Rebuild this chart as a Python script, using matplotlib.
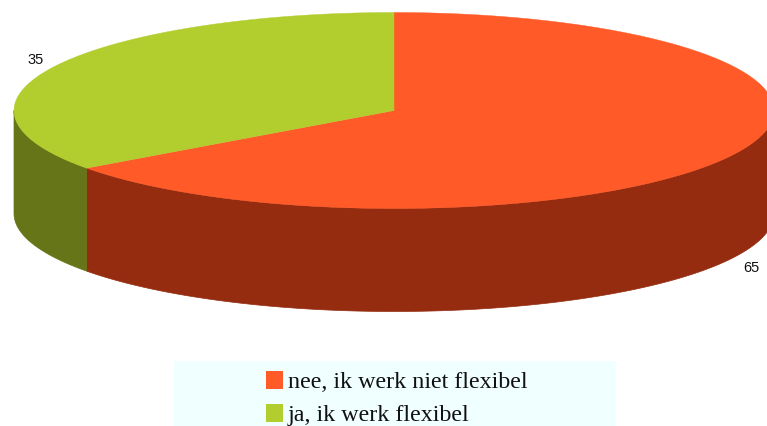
import numpy as np
import matplotlib
matplotlib.use('Agg')
import matplotlib.pyplot as plt
from matplotlib.patches import Polygon, Rectangle

labels = ['nee, ik werk niet flexibel', 'ja, ik werk flexibel']
values = [65, 35]
top_colors = ['#ff5a27', '#b2cd2e']
side_colors = ['#952c10', '#667518']

# pie geometry in pixels
cx, cy = 394, 111.5
rx, ry = 380, 98
depth = 103

fig = plt.figure(figsize=(7.67, 4.27), dpi=100)
ax = fig.add_axes([0, 0, 1, 1])
ax.set_xlim(0, 767)
ax.set_ylim(427, 0)
ax.axis('off')

# angles clockwise from 12 o'clock
total = sum(values)
start = 0
wedges = []
for v in values:
    end = start + v / total * 2 * np.pi
    wedges.append((start, end))
    start = end

def ex(t):
    return cx + rx * np.sin(t)

def ey(t):
    return cy - ry * np.cos(t)

# side walls first, only the front half is visible
for (a, b), col in zip(wedges, side_colors):
    a2 = max(a, np.pi / 2)
    b2 = min(b, 3 * np.pi / 2)
    if b2 <= a2:
        continue
    t = np.linspace(a2, b2, 300)
    xs = np.concatenate([ex(t), ex(t[::-1])])
    ys = np.concatenate([ey(t), ey(t[::-1]) + depth])
    ax.add_patch(Polygon(np.column_stack([xs, ys]), closed=True, fc=col, ec=col, lw=0.5))

# top
for (a, b), col in zip(wedges, top_colors):
    t = np.linspace(a, b, 400)
    xs = np.concatenate([[cx], ex(t)])
    ys = np.concatenate([[cy], ey(t)])
    ax.add_patch(Polygon(np.column_stack([xs, ys]), closed=True, fc=col, ec=col, lw=0.3))

# value labels
ax.text(36, 59.5, str(values[1]), family='Liberation Sans', fontsize=10.5, ha='center', va='center', color='#111111')
ax.text(751, 268.5, str(values[0]), family='Liberation Sans', fontsize=10.5, ha='center', va='center', color='#111111')

# legend
ax.add_patch(Rectangle((174, 362), 442, 66, fc='#f0ffff', ec='none'))
for i, (lab, col) in enumerate(zip(labels, top_colors)):
    y = 381 + i * 33
    ax.add_patch(Rectangle((266, y - 9), 17, 18, fc=col, ec='none'))
    ax.text(288, y + 7, lab, family='Liberation Serif', fontsize=17.3, ha='left', va='baseline', color='#111111')

fig.savefig('out.png', dpi=100)
